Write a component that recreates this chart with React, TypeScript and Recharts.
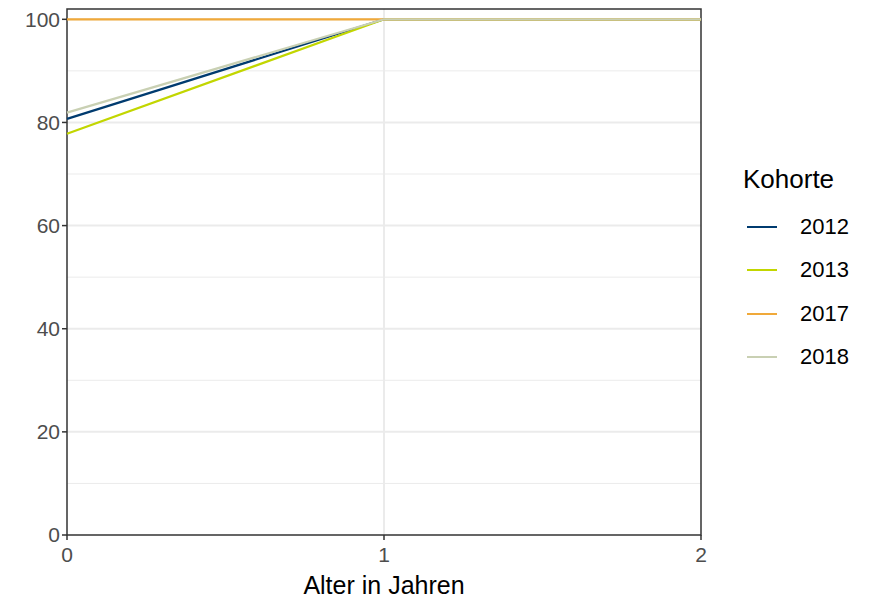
import { LineChart, Line, XAxis, YAxis, CartesianGrid, ReferenceArea } from 'recharts'

const ages = [0, 1, 2]
const cohorts = ['2012', '2013', '2017', '2018']
const values2012 = [80.7, 100, 100]
const values2013 = [77.8, 100, 100]
const values2017 = [100, 100, 100]
const values2018 = [81.9, 100, 100]
const colors = ['#003b6f', '#c2d600', '#f0a93a', '#c9d0b3']
const yTicks = [0, 20, 40, 60, 80, 100]
const xTicks = [0, 1, 2]
const minorY = [10, 30, 50, 70, 90]

const seriesValues = [values2012, values2013, values2017, values2018]
const data = ages.map((age, i) => {
  const row: Record<string, number> = { age }
  cohorts.forEach((c, j) => {
    row[c] = seriesValues[j][i]
  })
  return row
})

const font = '"Liberation Sans", Arial, sans-serif'

function KohorteLegend() {
  return (
    <div style={{ position: 'absolute', left: 743, top: 163, fontFamily: font, color: '#000' }}>
      <div style={{ fontSize: 26, lineHeight: '32px', marginBottom: 10 }}>Kohorte</div>
      {cohorts.map((c, i) => (
        <div key={c} style={{ display: 'flex', alignItems: 'center', height: 43.5 }}>
          <div style={{ width: 30, height: 2, background: colors[i], marginLeft: 4, marginRight: 23 }} />
          <span style={{ fontSize: 22 }}>{c}</span>
        </div>
      ))}
    </div>
  )
}

export default function App() {
  return (
    <div style={{ position: 'absolute', left: 0, top: 0, width: 869, height: 598, background: '#fff' }}>
      <LineChart width={869} height={598} data={data} margin={{ top: 9, right: 168, left: 0, bottom: 0 }}>
        {/* minor grid */}
        <CartesianGrid stroke="#ebebeb" strokeWidth={1} horizontalValues={minorY} vertical={false} />
        {/* major grid */}
        <CartesianGrid stroke="#ebebeb" strokeWidth={2} horizontalValues={yTicks.slice(1)} verticalValues={[1]} />
        <XAxis
          dataKey="age"
          type="number"
          domain={[0, 2]}
          ticks={xTicks}
          height={63}
          axisLine={false}
          tickLine={{ stroke: '#333333', strokeWidth: 1.5 }}
          tickSize={5}
          tickMargin={7}
          tick={{ fontSize: 21, fill: '#4d4d4d', fontFamily: font }}
          label={{ value: 'Alter in Jahren', position: 'insideBottom', offset: 4, fontSize: 25, fill: '#000', fontFamily: font }}
        />
        <YAxis
          type="number"
          domain={[0, 102]}
          ticks={yTicks}
          width={67}
          axisLine={false}
          tickLine={{ stroke: '#333333', strokeWidth: 1.5 }}
          tickSize={5}
          tick={{ fontSize: 21, fill: '#4d4d4d', fontFamily: font }}
        />
        {cohorts.map((c, i) => (
          <Line
            key={c}
            dataKey={c}
            stroke={colors[i]}
            strokeWidth={2.2}
            dot={false}
            isAnimationActive={false}
            type="linear"
          />
        ))}
        <ReferenceArea x1={0} x2={2} y1={0} y2={102} fill="none" stroke="#333333" strokeWidth={1.5} ifOverflow="visible" />
      </LineChart>
      <KohorteLegend />
    </div>
  )
}
